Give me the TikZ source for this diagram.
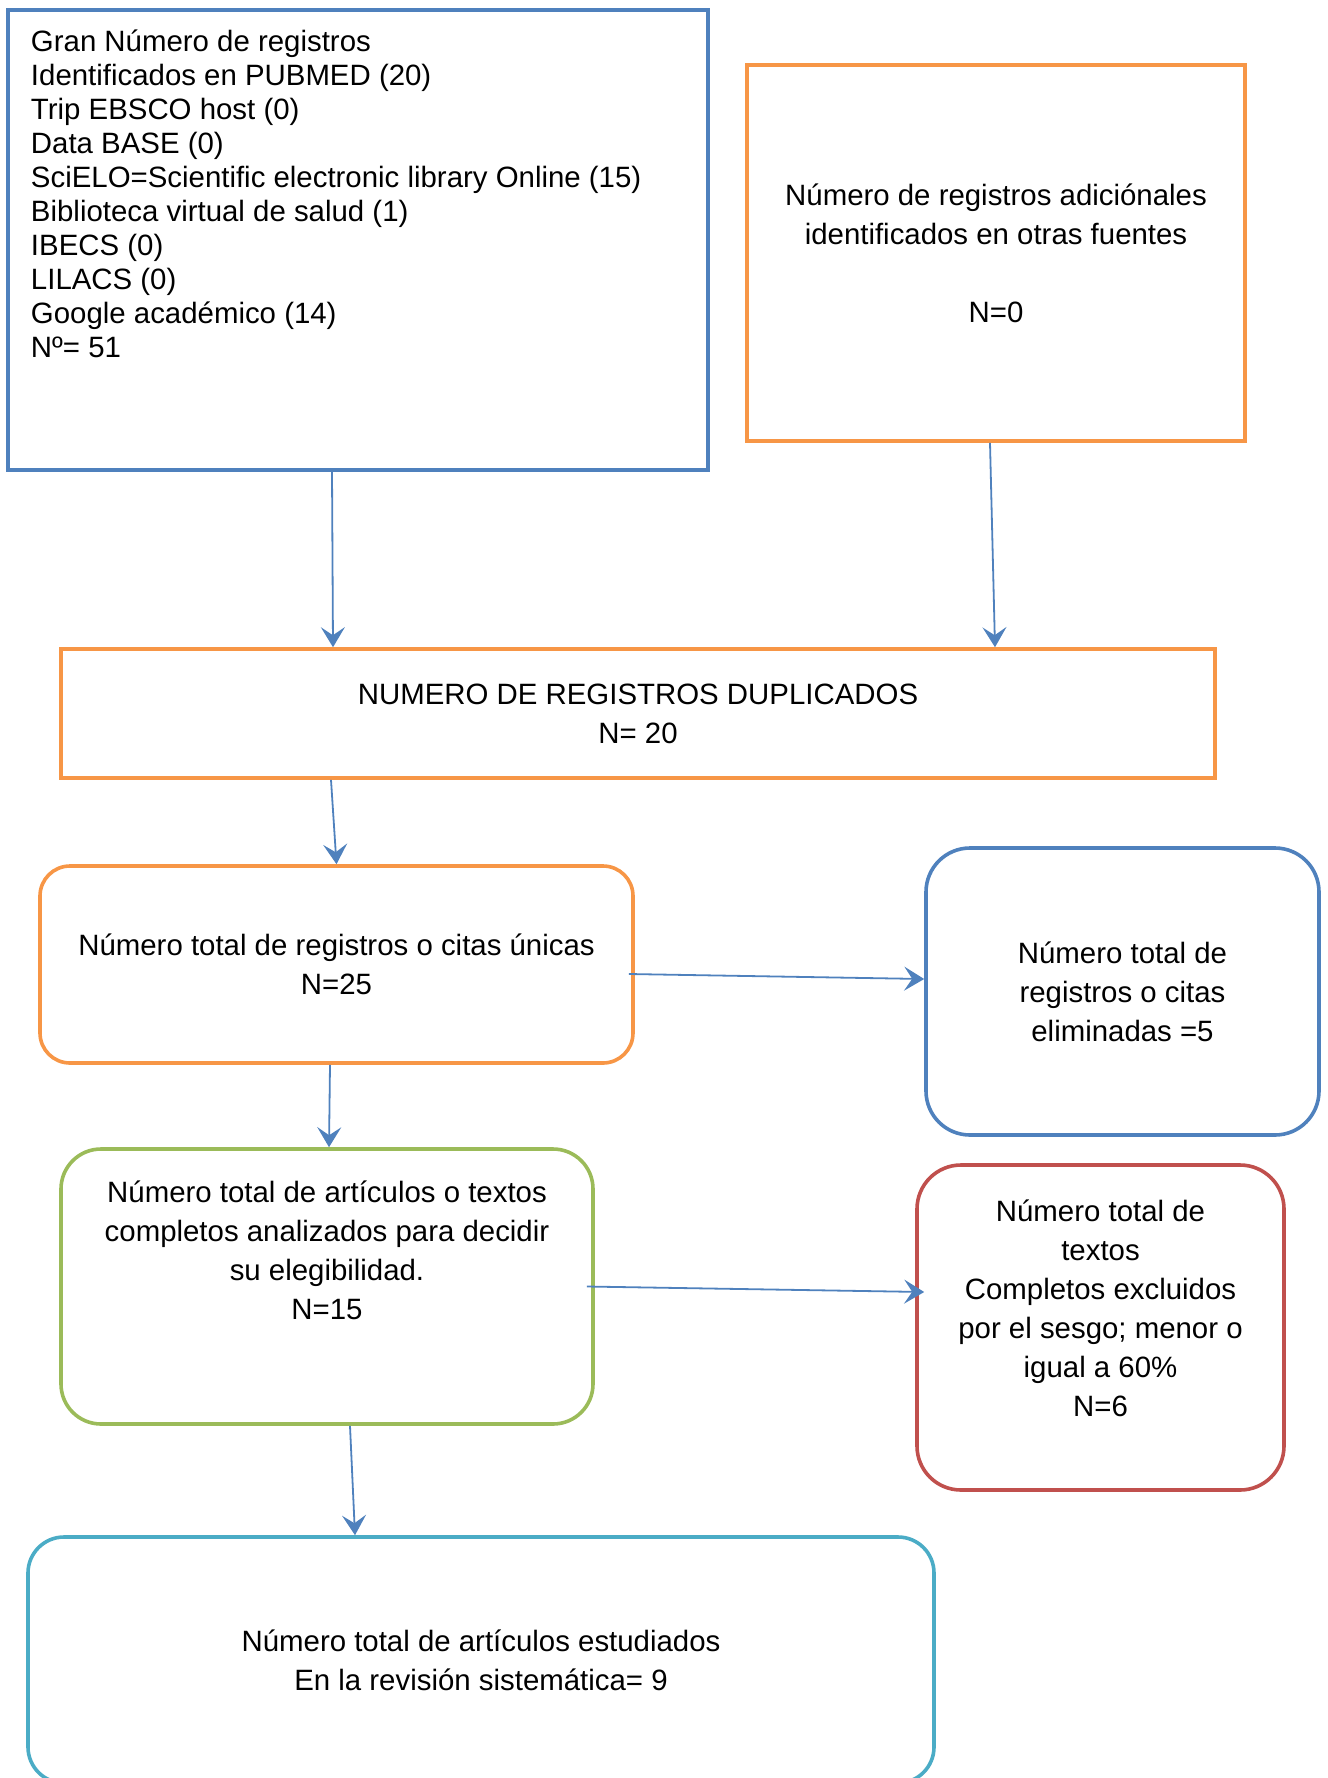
\documentclass[tikz,border=0pt]{standalone}
\usepackage{fontspec}
\setmainfont{Liberation Sans}
\usetikzlibrary{arrows.meta, positioning}
\definecolor{flowBlue}  {HTML}{4F81BD}
\definecolor{flowOrange}{HTML}{F79646}
\definecolor{flowGreen} {HTML}{9BBB59}
\definecolor{flowRed}   {HTML}{C0504D}
\definecolor{flowTeal}  {HTML}{4BACC6}
\tikzset{
  sqbox/.style = {rectangle, draw=#1, line width=1.8pt, align=center,
                  inner sep=0pt},
  rbox/.style  = {rectangle, rounded corners=15pt, draw=#1, line width=1.8pt,
                  align=center, inner sep=0pt},
  arrow/.style = {-{Stealth[length=10pt, width=12pt, inset=4pt]},
                  line width=0.9pt, color=flowBlue},
}

\begin{document}
\begin{tikzpicture}[x=0.5pt, y=-0.5pt, font=\fontsize{14.7}{19.5}\selectfont]

  \useasboundingbox (0,0) rectangle (1328,1778);

  % ---- Identification ----
  \node[sqbox=flowBlue, minimum width=350pt, minimum height=230pt] (src) at (358,240)
    {\parbox[c][210pt][t]{327pt}{\fontsize{14.7}{17}\selectfont\raggedright
      Gran Número de registros\\
      Identificados en PUBMED (20)\\
      Trip EBSCO host (0)\\
      Data BASE (0)\\
      SciELO=Scientific electronic library Online (15)\\
      Biblioteca virtual de salud (1)\\
      IBECS (0)\\
      LILACS (0)\\
      Google académico (14)\\
      Nº= 51}};
  \node[sqbox=flowOrange, minimum width=249pt, minimum height=188pt] (other) at (996,253)
    {Número de registros adiciónales\\identificados en otras fuentes\\ \\N=0};

  % ---- Screening ----
  \node[sqbox=flowOrange, minimum width=577pt, minimum height=64.5pt] (dup) at (638,713.5)
    {NUMERO DE REGISTROS DUPLICADOS\\N= 20};
  \node[rbox=flowOrange, minimum width=296.5pt, minimum height=98.5pt] (uniq) at (336.5,964.5)
    {Número total de registros o citas únicas\\N=25};
  \node[rbox=flowBlue, rounded corners=22pt, minimum width=196.5pt, minimum height=143.5pt]
    (elim) at (1122.5,991.5)
    {Número total de\\registros o citas\\eliminadas =5};

  % ---- Eligibility ----
  \node[rbox=flowGreen, rounded corners=20pt, minimum width=266pt, minimum height=137.5pt]
    (full) at (327,1286.5)
    {Número total de artículos o textos\\completos analizados para decidir\\su elegibilidad.\\N=15\\[16.5pt]\mbox{}};
  \node[rbox=flowRed, rounded corners=22pt, minimum width=183.5pt, minimum height=162.5pt]
    (excl) at (1100.5,1327.5)
    {Número total de\\textos\\Completos excluidos\\por el sesgo; menor o\\igual a 60\%\\N=6\\ \mbox{}};

  % ---- Included ----
  \node[rbox=flowTeal, rounded corners=18pt, minimum width=453pt, minimum height=123pt]
    (final) at (481,1660)
    {Número total de artículos estudiados\\En la revisión sistemática= 9};

  % ---- Arrows ----
  \draw[arrow] ([xshift=-13pt]src.south)   -- ([xshift=-152.5pt]dup.north);
  \draw[arrow] ([xshift=-3pt]other.south)  -- ([xshift=178.5pt]dup.north);
  \draw[arrow] ([xshift=-153.5pt]dup.south) -- (uniq.north);
  \draw[arrow] ([xshift=-3pt, yshift=-4.75pt]uniq.east) -- ([yshift=6.25pt]elim.west);
  \draw[arrow] ([xshift=-3.25pt]uniq.south) -- ([xshift=1pt]full.north);
  \draw[arrow] ([xshift=-4pt]full.east)    -- ([xshift=4.5pt, yshift=17.75pt]excl.west);
  \draw[arrow] ([xshift=11.5pt]full.south) -- ([xshift=-63pt]final.north);

\end{tikzpicture}
\end{document}
